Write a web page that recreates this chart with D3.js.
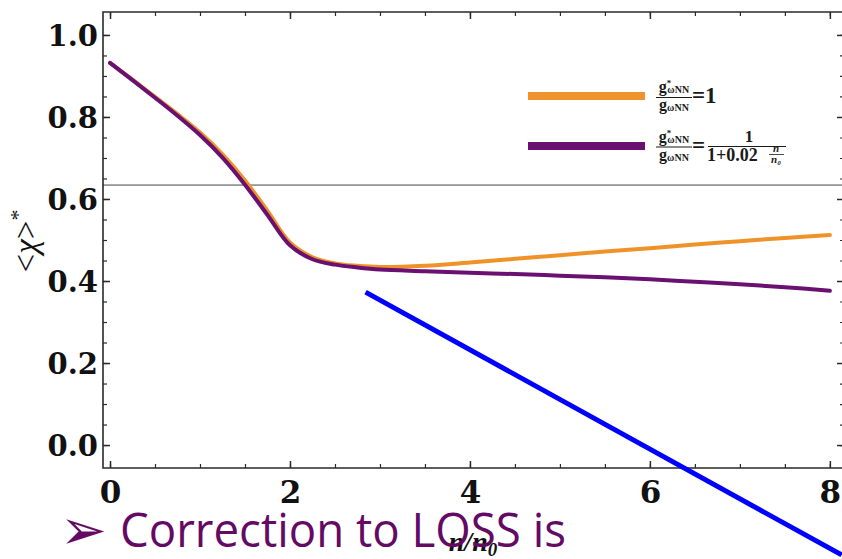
<!DOCTYPE html>
<html>
<head>
<meta charset="utf-8">
<script src="https://cdn.jsdelivr.net/npm/d3@7"></script>
<style>
  html, body { margin: 0; padding: 0; background: #fff; }
  svg { display: block; }
</style>
</head>
<body>
<svg id="chart" width="842" height="559"></svg>
<script>
// ---------- data ----------
const densityRatio = [0, 0.25, 0.5, 0.75, 1.0, 1.25, 1.5, 1.75, 2.0, 2.25, 2.5, 2.75, 3.0, 3.5, 4.0, 4.5, 5.0, 5.5, 6.0, 6.5, 7.0, 7.5, 8.0];
const chiConstCoupling = [0.932, 0.891, 0.849, 0.807, 0.762, 0.709, 0.645, 0.571, 0.494, 0.458, 0.443, 0.437, 0.434, 0.437, 0.445, 0.454, 0.463, 0.472, 0.480, 0.489, 0.497, 0.505, 0.512];
const chiRunningCoupling = [0.932, 0.890, 0.847, 0.803, 0.756, 0.701, 0.635, 0.561, 0.487, 0.453, 0.440, 0.433, 0.428, 0.424, 0.420, 0.417, 0.413, 0.409, 0.404, 0.398, 0.392, 0.385, 0.376];
const referenceLevel = [0.634];
const xMajorTicks = [0, 2, 4, 6, 8];
const xTickLabels = ["0", "2", "4", "6", "8"];
const yMajorTicks = [0.0, 0.2, 0.4, 0.6, 0.8, 1.0];
const yTickLabels = ["0.0", "0.2", "0.4", "0.6", "0.8", "1.0"];
const xMinorTicks = d3.range(0, 8.01, 0.5);
const yMinorTicks = d3.range(0, 1.001, 0.05);
const annotationX = [2.84, 8.13];
const annotationY = [0.373, -0.268];

// ---------- layout ----------
const svg = d3.select("#chart");
const L = 103, R = 844, T = 12, B = 468;
const x = d3.scaleLinear().domain([-0.078, 8.157]).range([L, R]);
const y = d3.scaleLinear().domain([-0.056, 1.056]).range([B, T]);

const frameColor = "#2a2a2a";
const orange = "#f0922a";
const purple = "#6a1070";
const tickFont = "'DejaVu Serif', serif";

// reference horizontal line
svg.append("g").selectAll("line").data(referenceLevel).join("line")
  .attr("x1", L).attr("x2", R)
  .attr("y1", d => y(d)).attr("y2", d => y(d))
  .attr("stroke", "#444").attr("stroke-width", 1);

// curves
const lineGen = (vals) => d3.line()
  .x((d, i) => x(densityRatio[i]))
  .y(d => y(d))
  .curve(d3.curveCatmullRom.alpha(0.5))(vals);

svg.append("path").attr("d", lineGen(chiConstCoupling))
  .attr("fill", "none").attr("stroke", orange).attr("stroke-width", 4).attr("stroke-linecap", "round");
svg.append("path").attr("d", lineGen(chiRunningCoupling))
  .attr("fill", "none").attr("stroke", purple).attr("stroke-width", 4).attr("stroke-linecap", "round");

// ---------- frame & ticks ----------
const frame = svg.append("g");
const leftAxis = frame.append("g").attr("transform", `translate(${L},0)`)
  .call(d3.axisLeft(y).tickValues(yMajorTicks).tickSizeInner(-7).tickSizeOuter(0).tickPadding(5)
    .tickFormat((d, i) => yTickLabels[i]));
leftAxis.select(".domain").remove();
leftAxis.selectAll("line").attr("stroke", frameColor).attr("stroke-width", 1.5);
leftAxis.selectAll("text").attr("font-family", tickFont).attr("font-weight", "bold")
  .attr("font-size", 29).attr("fill", "#111").attr("dy", "0.36em");
frame.append("g").attr("transform", `translate(${L},0)`)
  .call(d3.axisRight(y).tickValues(yMinorTicks).tickSize(4).tickFormat(""))
  .call(g => g.select(".domain").remove())
  .selectAll("line").attr("stroke", frameColor).attr("stroke-width", 1.2);

const bottomAxis = frame.append("g").attr("transform", `translate(0,${B})`)
  .call(d3.axisBottom(x).tickValues(xMajorTicks).tickSizeInner(-7).tickSizeOuter(0).tickPadding(13)
    .tickFormat((d, i) => xTickLabels[i]));
bottomAxis.select(".domain").remove();
bottomAxis.selectAll("line").attr("stroke", frameColor).attr("stroke-width", 1.5);
bottomAxis.selectAll("text").attr("font-family", tickFont).attr("font-weight", "bold")
  .attr("font-size", 31).attr("fill", "#111");
frame.append("g").attr("transform", `translate(0,${B})`)
  .call(d3.axisTop(x).tickValues(xMinorTicks).tickSize(4).tickFormat(""))
  .call(g => g.select(".domain").remove())
  .selectAll("line").attr("stroke", frameColor).attr("stroke-width", 1.2);

frame.append("g").attr("transform", `translate(0,${T})`)
  .call(d3.axisBottom(x).tickValues(xMajorTicks).tickSize(7).tickFormat(""))
  .call(g => g.select(".domain").remove())
  .selectAll("line").attr("stroke", frameColor).attr("stroke-width", 1.5);
frame.append("g").attr("transform", `translate(0,${T})`)
  .call(d3.axisBottom(x).tickValues(xMinorTicks).tickSize(4).tickFormat(""))
  .call(g => g.select(".domain").remove())
  .selectAll("line").attr("stroke", frameColor).attr("stroke-width", 1.2);
frame.append("g").attr("transform", `translate(${R},0)`)
  .call(d3.axisLeft(y).tickValues(yMajorTicks).tickSize(7).tickFormat(""))
  .call(g => g.select(".domain").remove())
  .selectAll("line").attr("stroke", frameColor).attr("stroke-width", 1.5);
frame.append("g").attr("transform", `translate(${R},0)`)
  .call(d3.axisLeft(y).tickValues(yMinorTicks).tickSize(4).tickFormat(""))
  .call(g => g.select(".domain").remove())
  .selectAll("line").attr("stroke", frameColor).attr("stroke-width", 1.2);

frame.append("path")
  .attr("d", `M${R},${T}H${L}V${B}H${R}`)
  .attr("fill", "none").attr("stroke", frameColor).attr("stroke-width", 1.6);

// ---------- axis titles ----------
svg.append("text")
  .attr("transform", "translate(37,241) rotate(-90)")
  .attr("text-anchor", "middle")
  .attr("font-family", "'Liberation Serif', serif").attr("font-size", 33).attr("fill", "#111")
  .call(t => {
    t.append("tspan").text("<");
    t.append("tspan").attr("font-style", "italic").text("χ");
    t.append("tspan").text(">");
    t.append("tspan").attr("dy", -12).attr("font-size", 22).text("*");
  });

const xTitle = svg.append("text")
  .attr("x", 473).attr("y", 551).attr("text-anchor", "middle")
  .attr("font-family", "'Liberation Serif', serif").attr("font-weight", "bold")
  .attr("font-style", "italic").attr("font-size", 28).attr("fill", "#111");
xTitle.append("tspan").text("n/n");
xTitle.append("tspan").attr("dy", 5).attr("font-size", 19).text("0");

// ---------- legend ----------
const legend = svg.append("g");
const legendRows = [{y: 96, color: orange}, {y: 146, color: purple}];
legend.selectAll("line.key").data(legendRows).join("line").attr("class", "key")
  .attr("x1", 528).attr("x2", 645).attr("y1", d => d.y).attr("y2", d => d.y)
  .attr("stroke", d => d.color).attr("stroke-width", 8);

const lf = "'Liberation Serif', serif";
const ink = "#1a1a1a";
function gFrac(g, cx, yNum, yBar, yDen) {
  const num = g.append("text").attr("x", cx).attr("y", yNum).attr("text-anchor", "middle")
    .attr("font-family", lf).attr("font-weight", "bold").attr("font-size", 16).attr("fill", ink);
  num.append("tspan").text("g");
  num.append("tspan").attr("dy", -6).attr("font-size", 9).text("*");
  num.append("tspan").attr("dy", 7).attr("dx", -4).attr("font-size", 10).text("ωNN");
  g.append("line").attr("x1", cx - 18).attr("x2", cx + 18).attr("y1", yBar).attr("y2", yBar)
    .attr("stroke", ink).attr("stroke-width", 1.1);
  const den = g.append("text").attr("x", cx).attr("y", yDen).attr("text-anchor", "middle")
    .attr("font-family", lf).attr("font-weight", "bold").attr("font-size", 16).attr("fill", ink);
  den.append("tspan").text("g");
  den.append("tspan").attr("dy", 1).attr("font-size", 10).text("ωNN");
}
gFrac(legend, 674, 92, 97.5, 110);
legend.append("text").attr("x", 692).attr("y", 103)
  .attr("font-family", lf).attr("font-weight", "bold").attr("font-size", 23).attr("fill", ink).text("=1");
gFrac(legend, 674, 142, 147, 160);
legend.append("text").attr("x", 692).attr("y", 153)
  .attr("font-family", lf).attr("font-weight", "bold").attr("font-size", 23).attr("fill", ink).text("=");
legend.append("text").attr("x", 749).attr("y", 142).attr("text-anchor", "middle")
  .attr("font-family", lf).attr("font-weight", "bold").attr("font-size", 17).attr("fill", ink).text("1");
legend.append("line").attr("x1", 708).attr("x2", 786).attr("y1", 146.5).attr("y2", 146.5)
  .attr("stroke", ink).attr("stroke-width", 1.1);
legend.append("text").attr("x", 707).attr("y", 161)
  .attr("font-family", lf).attr("font-weight", "bold").attr("font-size", 18).attr("fill", ink).text("1+0.02");
legend.append("text").attr("x", 776).attr("y", 152).attr("text-anchor", "middle")
  .attr("font-family", lf).attr("font-style", "italic").attr("font-weight", "bold").attr("font-size", 11).attr("fill", ink).text("n");
legend.append("line").attr("x1", 769).attr("x2", 784).attr("y1", 154.5).attr("y2", 154.5)
  .attr("stroke", ink).attr("stroke-width", 0.8);
legend.append("text").attr("x", 776).attr("y", 163).attr("text-anchor", "middle")
  .attr("font-family", lf).attr("font-style", "italic").attr("font-weight", "bold").attr("font-size", 11).attr("fill", ink).text("n₀");

// ---------- slide overlay: annotation line and bullet text ----------
svg.append("line")
  .attr("x1", x(annotationX[0])).attr("y1", y(annotationY[0]))
  .attr("x2", x(annotationX[1])).attr("y2", y(annotationY[1]))
  .attr("stroke", "#0000ff").attr("stroke-width", 5);

svg.append("text").attr("x", 60).attr("y", 549)
  .attr("font-family", "'DejaVu Sans', sans-serif").attr("font-size", 56).attr("fill", "#640a64").text("➢");
svg.append("text").attr("x", 120).attr("y", 547)
  .attr("font-family", "'Open Sans', sans-serif").attr("font-size", 48).attr("fill", "#640a64")
  .attr("textLength", 446).attr("lengthAdjust", "spacingAndGlyphs")
  .text("Correction to LOSS is");
</script>
</body>
</html>
